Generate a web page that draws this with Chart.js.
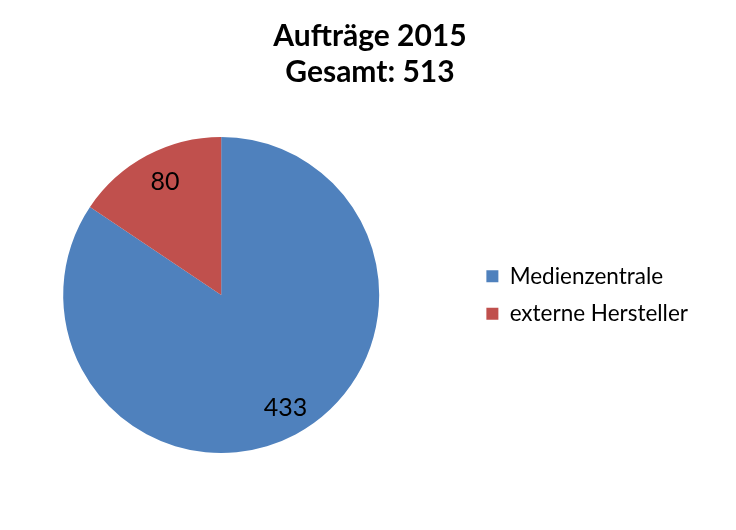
<!DOCTYPE html>
<html>
<head>
<meta charset="utf-8">
<script src="https://cdn.jsdelivr.net/npm/chart.js@4/dist/chart.umd.min.js"></script>
<style>
html, body { margin: 0; padding: 0; background: #fff; }
</style>
</head>
<body>
<canvas id="myChart" width="736" height="530"></canvas>
<script>
const categories = ['Medienzentrale', 'externe Hersteller'];
const orders = [433, 80];
const sliceColors = ['#4F81BD', '#C0504D'];
const titleLines = ['Aufträge 2015', 'Gesamt: 513'];

const fontFamily = 'Lato, "Open Sans", sans-serif';

// numbers inside the slices
const sliceLabels = {
    id: 'sliceLabels',
    afterDatasetsDraw(chart) {
        const ctx = chart.ctx;
        const meta = chart.getDatasetMeta(0);
        ctx.save();
        ctx.font = '25px ' + fontFamily;
        ctx.fillStyle = '#000';
        ctx.textAlign = 'center';
        ctx.textBaseline = 'middle';
        meta.data.forEach(function(arc, i) {
            const mid = (arc.startAngle + arc.endAngle) / 2;
            const r = arc.outerRadius * 0.81;
            ctx.fillText(orders[i], arc.x + Math.cos(mid) * r + 4, arc.y + Math.sin(mid) * r);
        });
        ctx.restore();
    }
};

// legend sits further right than chart.js would put it, title centred on the page
const placeBlocks = {
    id: 'placeBlocks',
    afterLayout(chart) {
        const lg = chart.legend;
        const left = chart.chartArea.right + 92;
        lg.left = left;
        lg.right = left + lg.width;
        chart.titleBlock.left = 4;
        chart.titleBlock.right = chart.width;
    }
};

const ctx = document.getElementById('myChart').getContext('2d');
const chart = new Chart(ctx, {
    type: 'pie',
    data: {
        labels: categories,
        datasets: [{
            data: orders,
            backgroundColor: sliceColors,
            borderWidth: 0
        }]
    },
    options: {
        responsive: false,
        animation: false,
        layout: {
            padding: { top: 18, left: 63, right: 130, bottom: 77 }
        },
        plugins: {
            title: {
                display: true,
                text: titleLines,
                color: '#000',
                font: { family: fontFamily, size: 30, weight: 'bold', lineHeight: 1.2 },
                padding: { top: 0, bottom: 47 }
            },
            legend: {
                position: 'right',
                fullSize: false,
                labels: {
                    color: '#000',
                    boxWidth: 12,
                    boxHeight: 12,
                    padding: 15,
                    font: { family: fontFamily, size: 22.5 }
                }
            },
            tooltip: { enabled: false }
        }
    },
    plugins: [sliceLabels, placeBlocks]
});
</script>
</body>
</html>
